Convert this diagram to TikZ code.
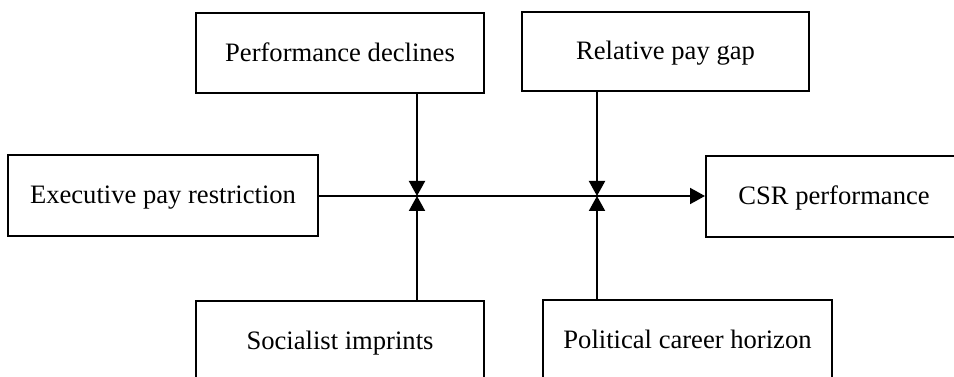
\documentclass[tikz,border=0pt]{standalone}
\usepackage{fontspec}
\setmainfont{Liberation Serif}
\usetikzlibrary{arrows.meta}
\begin{document}
\begin{tikzpicture}[x=1pt,y=-1pt,
  box/.style={draw, line width=2pt, rectangle, inner sep=0pt, text height=22pt, text depth=5pt, font=\fontsize{26.6}{30}\selectfont},
  conn/.style={line width=2pt, -{Triangle[width=16pt,length=15pt]}}]
\useasboundingbox (0,0) rectangle (954,377);
\clip (0,0) rectangle (954,377);
\fill[white] (0,0) rectangle (954,377);
\node[box, minimum width=310pt, minimum height=81pt] (exec) at (163,195.5) {Executive pay restriction};
\node[box, minimum width=288pt, minimum height=80pt] (perf) at (340,53) {Performance declines};
\node[box, minimum width=287pt, minimum height=79pt] (rel) at (665.5,51.5) {Relative pay gap};
\node[box, minimum width=256pt, minimum height=81pt] (csr) at (834,196.5) {CSR performance};
\node[box, minimum width=288pt, minimum height=80pt] (soc) at (340,341) {Socialist imprints};
\node[box, minimum width=289pt, minimum height=80pt] (pol) at (687.5,340) {Political career horizon};
\coordinate (j1) at (417,196);
\coordinate (j2) at (597,196);
\draw[conn] (exec.east |- j1) -- (csr.west |- j1);
\draw[conn] (perf.south -| j1) -- (j1);
\draw[conn] (rel.south -| j2) -- (j2);
\draw[conn] (soc.north -| j1) -- (j1);
\draw[conn] (pol.north -| j2) -- (j2);
\end{tikzpicture}
\end{document}
